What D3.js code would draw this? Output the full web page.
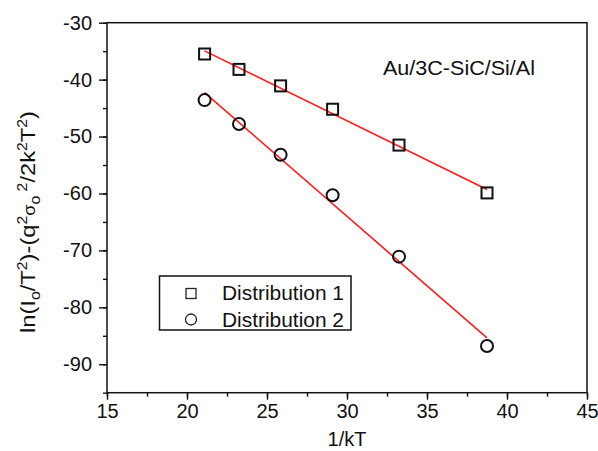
<!DOCTYPE html>
<html><head><meta charset="utf-8">
<script src="https://cdn.jsdelivr.net/npm/d3@7"></script>
<style>body{margin:0;background:#fff} text{font-family:"Liberation Sans",Arial,Helvetica,sans-serif;fill:#111}</style>
</head><body><svg id="c" width="598" height="451"></svg>
<script>
const xDist1 = [21.1, 23.25, 25.85, 29.1, 33.25, 38.75];
const yDist1 = [-35.5, -38.2, -41.1, -45.2, -51.5, -59.9];
const xDist2 = [21.1, 23.25, 25.85, 29.1, 33.25, 38.75];
const yDist2 = [-43.6, -47.8, -53.2, -60.3, -71.1, -86.8];
const xTicks = [15, 20, 25, 30, 35, 40, 45];
const yTicks = [-30, -40, -50, -60, -70, -80, -90];
const seriesNames = ["Distribution 1", "Distribution 2"];
const annotation = "Au/3C-SiC/Si/Al";

const svg = d3.select("#c");
const L = 107, R = 587, T = 22.7, B = 392.7;
const x = d3.scaleLinear().domain([15, 45]).range([L, R]);
const y = d3.scaleLinear().domain([-95, -30]).range([B, T]);
const FF = '"Liberation Sans",Arial,sans-serif';

// axes
const xMinor = d3.range(15, 45.01, 2.5);
const yMinor = d3.range(-95, -29.99, 5);
const gx = svg.append("g").attr("transform", `translate(0,${B})`);
gx.call(d3.axisBottom(x).tickValues(xMinor).tickSize(4).tickFormat(""));
gx.select(".domain").remove();
const gx2 = svg.append("g").attr("transform", `translate(0,${B})`);
gx2.call(d3.axisBottom(x).tickValues(xTicks).tickSize(7).tickPadding(4).tickFormat(d3.format("d")));
gx2.select(".domain").remove();
gx2.selectAll("text").attr("font-size", 20).attr("fill", "#111").style("font-family", FF);

const gy = svg.append("g").attr("transform", `translate(${L},0)`);
gy.call(d3.axisLeft(y).tickValues(yMinor).tickSize(4).tickFormat(""));
gy.select(".domain").remove();
const gy2 = svg.append("g").attr("transform", `translate(${L},0)`);
gy2.call(d3.axisLeft(y).tickValues(yTicks).tickSize(8).tickPadding(7).tickFormat(d => d));
gy2.select(".domain").remove();
gy2.selectAll("text").attr("font-size", 20).attr("fill", "#111").text(d => "-" + Math.abs(d)).style("font-family", FF);
svg.selectAll(".tick line").attr("stroke", "#111").attr("stroke-width", 1.4);

// frame
svg.append("rect").attr("x", L).attr("y", T).attr("width", R - L).attr("height", B - T)
  .attr("fill", "none").attr("stroke", "#111").attr("stroke-width", 1.5);

// fit lines
function fit(xs, ys) {
  const n = xs.length, mx = d3.mean(xs), my = d3.mean(ys);
  let sxy = 0, sxx = 0;
  for (let i = 0; i < n; i++) { sxy += (xs[i] - mx) * (ys[i] - my); sxx += (xs[i] - mx) ** 2; }
  const b = sxy / sxx, a = my - b * mx;
  const x0 = d3.min(xs), x1 = d3.max(xs);
  return [[x0, a + b * x0], [x1, a + b * x1]];
}
const line = d3.line().x(d => x(d[0])).y(d => y(d[1]));
[[xDist1, yDist1], [xDist2, yDist2]].forEach(([xs, ys]) => {
  svg.append("path").attr("d", line(fit(xs, ys))).attr("fill", "none")
    .attr("stroke", "#ff1a1a").attr("stroke-width", 1.6);
});

// markers
const d1 = xDist1.map((v, i) => [v, yDist1[i]]);
const d2 = xDist2.map((v, i) => [v, yDist2[i]]);
svg.append("g").selectAll("rect").data(d1).join("rect")
  .attr("x", d => x(d[0]) - 5.5).attr("y", d => y(d[1]) - 5.5)
  .attr("width", 11).attr("height", 11)
  .attr("fill", "none").attr("stroke", "#111").attr("stroke-width", 2);
svg.append("g").selectAll("circle").data(d2).join("circle")
  .attr("cx", d => x(d[0])).attr("cy", d => y(d[1])).attr("r", 6)
  .attr("fill", "none").attr("stroke", "#111").attr("stroke-width", 2);

// axis titles
svg.append("text").attr("x", (L + R) / 2).attr("y", 446).attr("text-anchor", "middle")
  .attr("font-size", 20).text("1/kT");

const yt = svg.append("text").attr("transform", "translate(35,222) rotate(-90)")
  .attr("text-anchor", "middle").attr("font-size", 21)
  .attr("textLength", 222).attr("lengthAdjust", "spacingAndGlyphs");
const parts = [
  ["ln(I", 0, 21], ["o", 5, 14], ["/T", -5, 21], ["2", -8, 14], [")-(q", 8, 21], ["2", -8, 14],
  ["σ", 8, 16], ["o", 5, 14], [" 2", -13, 14], ["/2k", 8, 21], ["2", -8, 14], ["T", 8, 21], ["2", -8, 14], [")", 8, 21]
];
parts.forEach(([t, dy, fs]) => {
  yt.append("tspan").attr("dy", dy).attr("font-size", fs).text(t);
});

// annotation
svg.append("text").attr("x", 383).attr("y", 75).attr("font-size", 19.5)
  .attr("textLength", 152).attr("lengthAdjust", "spacingAndGlyphs").text(annotation);

// legend
svg.append("rect").attr("x", 159.5).attr("y", 276).attr("width", 191.5).attr("height", 54)
  .attr("fill", "#fff").attr("stroke", "#111").attr("stroke-width", 1.5);
svg.append("rect").attr("x", 186).attr("y", 288.5).attr("width", 10).attr("height", 10)
  .attr("fill", "none").attr("stroke", "#222").attr("stroke-width", 1.3);
svg.append("circle").attr("cx", 191).attr("cy", 319.5).attr("r", 5.5)
  .attr("fill", "none").attr("stroke", "#222").attr("stroke-width", 1.3);
seriesNames.forEach((n, i) => {
  svg.append("text").attr("x", 222).attr("y", 300 + i * 26.5).attr("font-size", 19.5)
    .attr("textLength", 122).attr("lengthAdjust", "spacingAndGlyphs").text(n);
});
</script></body></html>
